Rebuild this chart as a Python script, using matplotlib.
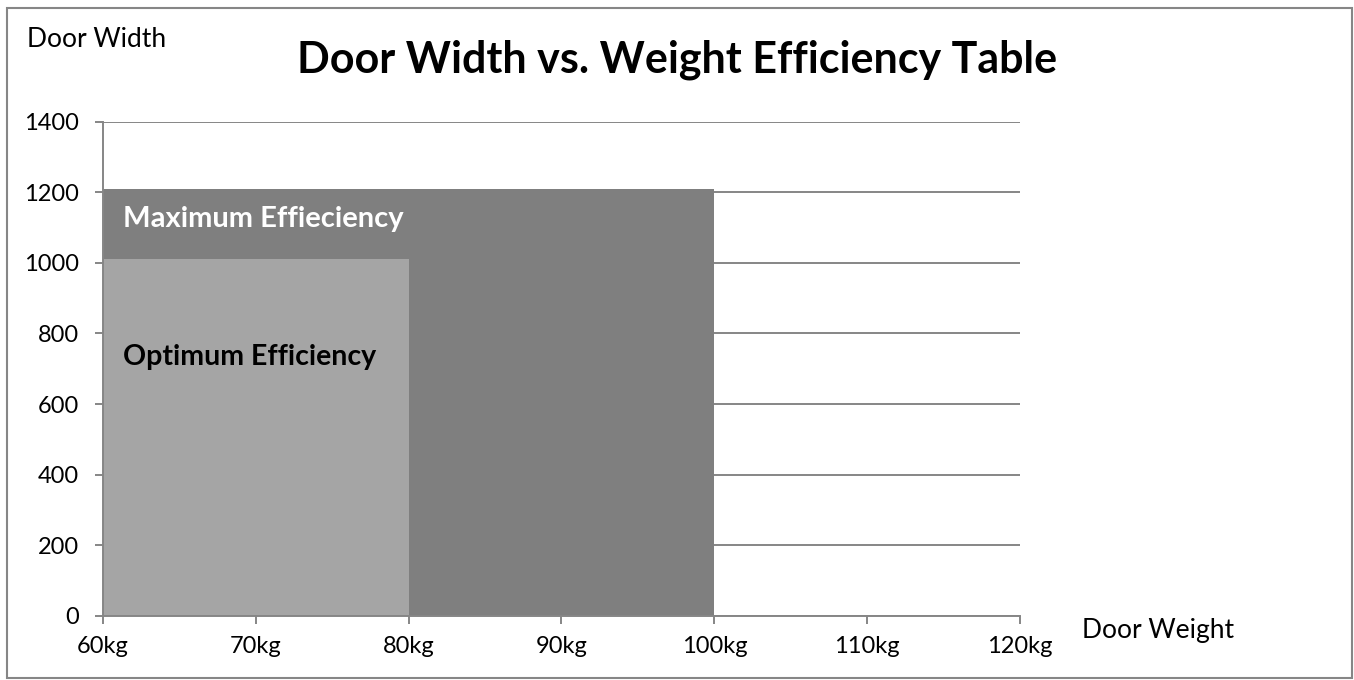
import matplotlib.pyplot as plt
from matplotlib.patches import Rectangle

plt.rcParams['font.family'] = ['Lato', 'DejaVu Sans']

# zones: start weight (kg), width of zone (kg), door width reached
zone_names = ["Maximum Effieciency", "Optimum Efficiency"]
zone_start = [60, 60]
zone_span = [40, 20]
zone_height = [1210, 1010]
zone_colors = ['#7f7f7f', '#a5a5a5']

x_ticks = [60, 70, 80, 90, 100, 110, 120]
y_ticks = [0, 200, 400, 600, 800, 1000, 1200, 1400]

W, H = 1354, 680
fig = plt.figure(figsize=(W / 100, H / 100), dpi=100)
ax = fig.add_axes([103 / W, 1 - 616 / H, (1020 - 103) / W, (616 - 121.5) / H])

ax.bar(zone_start, zone_height, width=zone_span, align='edge',
       color=zone_colors, zorder=2, linewidth=0)

ax.set_xlim(60, 120)
ax.set_ylim(0, 1400)
ax.set_xticks(x_ticks)
ax.set_xticklabels([f"{v}kg" for v in x_ticks])
ax.set_yticks(y_ticks)

grey = '#868686'
ax.grid(axis='y', color=grey, linewidth=1.4, zorder=1)
for side in ['top', 'right']:
    ax.spines[side].set_visible(False)
for side in ['left', 'bottom']:
    ax.spines[side].set_color(grey)
    ax.spines[side].set_linewidth(1.4)
    ax.spines[side].set_zorder(3)
ax.tick_params(axis='both', colors=grey, labelcolor='black', labelsize=17,
               width=1.4, length=5.5)
ax.tick_params(axis='x', pad=9)
ax.tick_params(axis='y', pad=12)

ax.text(61.3, 1101, zone_names[0], color='white', fontsize=21,
        fontweight='bold', va='baseline', zorder=4)
ax.text(61.3, 711, zone_names[1], color='black', fontsize=20.5,
        fontweight='bold', va='baseline', zorder=4)

fig.text(677 / W, 1 - 73 / H, "Door Width vs. Weight Efficiency Table",
         ha='center', va='baseline', fontsize=31, fontweight='bold')
fig.text(27 / W, 1 - 47 / H, "Door Width", ha='left', va='baseline', fontsize=19)
fig.text(1082 / W, 1 - 638 / H, "Door Weight", ha='left', va='baseline', fontsize=19)

fig.add_artist(Rectangle((7 / W, 2 / H), 1345 / W, 670 / H,
                         transform=fig.transFigure, fill=False,
                         edgecolor=grey, linewidth=1.5))

fig.savefig('out.png', dpi=100)
